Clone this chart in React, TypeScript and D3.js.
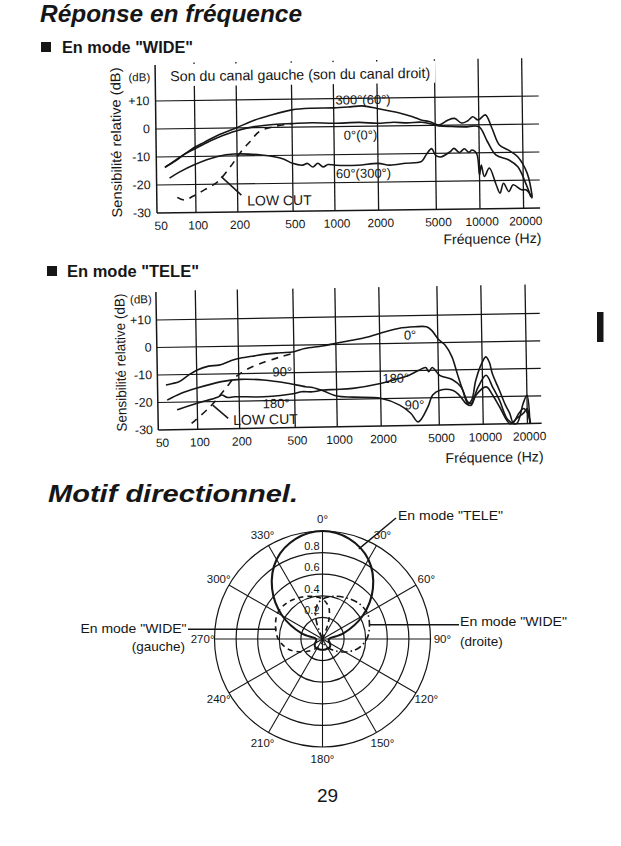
import React from "react";
import * as d3 from "d3";

type Pt = [number, number];

// ---------------- Data ----------------
const freqTicks = [50, 100, 200, 500, 1000, 2000, 5000, 10000, 20000];
const freqGrid = [100, 200, 500, 1000, 2000, 5000, 10000, 20000];
const dbTicks = [10, 0, -10, -20, -30];
const dbTickLabels = ["+10", "0", "-10", "-20", "-30"];

// WIDE mode (freq Hz, dB)
const wide300: Pt[] = [[58,-13.8],[70,-11.3],[82,-9.2],[100,-6.6],[116,-5.0],[145,-2.6],[200,0.1],[268,2.7],[350,4.4],[500,6.2],[700,6.7],[1000,6.7],[1300,7.0],[1570,7.3],[2000,6.3],[2800,4.7],[3500,3.2],[4000,2.0],[4600,1.3],[5300,0.1],[6100,1.8],[6800,2.4],[7600,0.7],[8400,1.5],[9100,2.9],[9900,1.7],[11100,3.5],[12300,-1.3],[13800,-7.3],[15800,-9.1],[18400,-11.6],[21300,-17.5],[23000,-26]];
const wide0: Pt[] = [[59,-13.5],[70,-11.5],[82,-9.3],[97,-7.5],[120,-5.2],[145,-3.4],[200,-1.0],[268,0.4],[350,1.0],[500,1.3],[700,1.5],[1000,1.2],[1500,1.4],[2000,1.0],[2600,1.3],[3200,1.0],[4000,1.2],[4600,0.6],[5300,-0.2],[6500,-0.5],[8000,-0.7],[10000,-0.7],[11400,-6.0],[13000,-10.8],[16000,-12.7],[18400,-15.2],[21000,-21.7],[22500,-26]];
const wide60: Pt[] = [[63,-17.6],[75,-15.5],[97,-13.0],[145,-10.1],[190,-9.3],[300,-9.8],[430,-11.3],[500,-12.9],[590,-13.6],[640,-13.0],[700,-14.3],[760,-13.0],[830,-14.3],[900,-13.5],[1020,-13.8],[1450,-13.9],[2000,-13.3],[2400,-14.0],[3100,-13.4],[4000,-12.8],[4300,-10.5],[4700,-8.3],[5000,-10.7],[5400,-11.3],[6300,-9.5],[6700,-8.3],[7300,-9.8],[7900,-8.5],[8500,-9.8],[8900,-9.0],[9600,-10.3],[10000,-17.9],[10300,-14.4],[10800,-18.5],[11700,-15.5],[13000,-21.5],[13800,-24.5],[14600,-21],[15900,-24],[17000,-21.6],[19400,-23.4],[21000,-23.5],[23000,-26.5]];
const wideLowCut: Pt[] = [[72,-24.5],[82,-25.5],[95,-24.2],[117,-21.8],[145,-19],[180,-13.6],[215,-8.3],[250,-4.8],[290,-1.4],[370,0.3],[500,1.3]];

// TELE mode (freq Hz, dB)
const tele0: Pt[] = [[58,-13.7],[65,-13.2],[73,-12.6],[85,-10.5],[100,-8.5],[122,-7.1],[145,-6.8],[180,-5.1],[200,-4.5],[250,-3.8],[312,-3.1],[400,-2.7],[500,-2.4],[597,-1.3],[800,-0.5],[1000,0.4],[1290,1.4],[1600,2.3],[2000,3.7],[2690,5.4],[3490,5.9],[4200,5.8],[4550,4.5],[5060,1.1],[5610,-1.0],[6220,-5.3],[6730,-11.4],[7300,-17.4],[7900,-22.3],[8400,-21],[9000,-13.9],[10000,-7.5],[10600,-5.5],[11200,-7.5],[11700,-11.7],[13000,-17.7],[14200,-23],[15200,-26.2],[16000,-29.5],[17500,-26.3],[18900,-24.5],[20000,-26],[21000,-29.8]];
const tele90: Pt[] = [[59,-19.2],[75,-16.9],[100,-15.0],[150,-12.8],[205,-12.1],[300,-12.5],[445,-13.8],[600,-15.2],[673,-15.5],[800,-16.8],[1000,-18.8],[1300,-19.3],[2000,-19.9],[2690,-22.5],[3200,-25.5],[3590,-28.7],[4200,-23.3],[4540,-19],[5100,-17.3],[6220,-17.4],[6900,-19.2],[7700,-22.4],[8300,-23],[9000,-19.3],[10600,-16.4],[11700,-19.5],[13000,-23.8],[15200,-29.9],[17000,-28],[19000,-26],[20000,-24.5],[20800,-29.8]];
const tele180: Pt[] = [[70,-22.8],[75,-22.3],[100,-20.5],[140,-18.5],[150,-17.7],[165,-18.6],[185,-18.4],[300,-18.6],[500,-17.6],[560,-17.0],[673,-17.1],[800,-16.5],[1000,-16.4],[1290,-16.1],[2000,-14.5],[2420,-13.4],[3150,-11.7],[3680,-9.9],[4100,-9.0],[4300,-10.5],[4540,-9.0],[5100,-11.9],[6200,-13.5],[7100,-16.2],[7900,-21.8],[8300,-22.4],[9300,-16.5],[10600,-12.2],[11700,-16.5],[13000,-21.4],[14800,-28.6],[16900,-29.9],[18800,-22.7],[20000,-19.7],[20800,-29.8]];
const teleLowCut: Pt[] = [[90,-27.8],[124,-21.8],[161,-15.2],[185,-11.7],[230,-8.5],[310,-5.9],[400,-4.2],[490,-3.0]];

// Polar pattern (angle deg, relative level)
const teleAngles = [0,15,30,45,60,75,90,105,120,135,150,165,180,195,210,225,240,255,270,285,300,315,330,345];
const teleLevels = [1.0,0.96,0.85,0.66,0.43,0.2,0.06,0.06,0.08,0.1,0.1,0.1,0.1,0.1,0.1,0.1,0.08,0.06,0.06,0.2,0.43,0.66,0.85,0.96];
const wideRightAngles = [-30,-20,-15,-10,0,15,30,45,60,75,90,105,120,135,150,165,180,200];
const wideRightLevels = [0,0.15,0.25,0.31,0.37,0.41,0.44,0.47,0.48,0.45,0.41,0.34,0.24,0.15,0.09,0.05,0.03,0];
const wideLeftAngles = [30,20,15,10,0,-15,-30,-45,-60,-75,-90,-105,-120,-135,-150,-165,-180,-200];
const wideLeftLevels = [0,0.15,0.25,0.31,0.37,0.41,0.44,0.47,0.48,0.45,0.41,0.34,0.24,0.15,0.09,0.05,0.03,0];
const ringValues = [0.2, 0.4, 0.6, 0.8, 1.0];
const ringLabels = ["0.2", "0.4", "0.6", "0.8"];
const spokeAngles = [0,30,60,90,120,150,180,210,240,270,300,330];

// ---------------- Style ----------------
const FONT = "'Liberation Sans', Arial, Helvetica, sans-serif";
const INK = "#161616";

type Note = { text: string; f: number; db: number; anchor: "start" | "middle" | "end" };
type ChartProps = {
  xr: number[]; yBottom: number; yTop: number; angle: number;
  vTop: number; axisTop: number; gridEndF: number;
  curves: { data: Pt[]; dash?: string }[];
  notes: Note[]; pointer: Pt[];
  yLabelEnd: number; dbLabelY: number;
  yTitleX: number; yTitleY: number; yTitleLen: number;
  xLabelDy: number; xTitleDy: number; xTitleEnd: number;
  title?: { text: string; x: number; y: number; len: number };
};

function FreqChart(p: ChartProps) {
  const x = d3.scaleLog().domain([50, 100, 1000, 10000, 25000]).range(p.xr);
  const y = d3.scaleLinear().domain([-30, 10]).range([p.yBottom, p.yTop]);
  const x0 = x(50);
  const x1 = x(p.gridEndF);
  const line = d3.line<Pt>().x(d => x(d[0])).y(d => y(d[1])).curve(d3.curveCatmullRom.alpha(0.5));
  const yb = y(-30);
  return (
    <g transform={`rotate(${p.angle} ${x0} ${yb})`}>
      {dbTicks.map((d, i) => (
        <line key={"h" + i} x1={x0} x2={x1} y1={y(d)} y2={y(d)} stroke={INK} strokeWidth={d === -30 ? 1.5 : 1.2} />
      ))}
      {freqGrid.map(f => (
        <line key={"v" + f} x1={x(f)} x2={x(f)} y1={yb} y2={p.vTop} stroke={INK} strokeWidth={1.3} />
      ))}
      {p.title && (
        <g>
          <rect x={p.title.x - 3} y={p.title.y - 12} width={p.title.len + 8} height={22} fill="#fff" />
          <text x={p.title.x} y={p.title.y} fontSize={14.5} dominantBaseline="central" fill={INK}
            textLength={p.title.len} lengthAdjust="spacingAndGlyphs">{p.title.text}</text>
        </g>
      )}
      <line x1={x0} x2={x0} y1={yb} y2={p.axisTop} stroke={INK} strokeWidth={1.5} />
      {p.curves.map((c, i) => (
        <path key={"c" + i} d={line(c.data) || ""} fill="none" stroke={INK} strokeWidth={1.6}
          strokeDasharray={c.dash} strokeLinejoin="round" />
      ))}
      <path d={d3.line<Pt>().x(d => x(d[0])).y(d => y(d[1]))(p.pointer) || ""} fill="none" stroke={INK} strokeWidth={1.5} />
      {p.notes.map((n, i) => (
        <text key={"n" + i} x={x(n.f)} y={y(n.db)} fontSize={n.text === "LOW CUT" ? 14 : 13}
          textAnchor={n.anchor} dominantBaseline="central" fill={INK}>{n.text}</text>
      ))}
      {dbTicks.map((d, i) => (
        <text key={"yl" + i} x={p.yLabelEnd} y={y(d)} fontSize={12.5} textAnchor="end" dominantBaseline="central" fill={INK}>
          {dbTickLabels[i]}
        </text>
      ))}
      <text x={p.yLabelEnd + 1} y={p.dbLabelY} fontSize={11.5} textAnchor="end" dominantBaseline="central" fill={INK}>(dB)</text>
      <text transform={`translate(${p.yTitleX},${p.yTitleY}) rotate(-90)`} fontSize={14} textAnchor="middle"
        dominantBaseline="central" fill={INK} textLength={p.yTitleLen} lengthAdjust="spacingAndGlyphs">
        Sensibilité relative (dB)
      </text>
      {freqTicks.map(f => (
        <text key={"xl" + f} x={x(f) + (f === 50 ? 4 : 2)} y={yb + p.xLabelDy} fontSize={12} textAnchor="middle"
          dominantBaseline="central" fill={INK}>{f}</text>
      ))}
      <text x={p.xTitleEnd} y={yb + p.xTitleDy} fontSize={14} textAnchor="end" dominantBaseline="central" fill={INK}
        textLength={98} lengthAdjust="spacingAndGlyphs">Fréquence (Hz)</text>
    </g>
  );
}

function Polar() {
  const cx = 322.5, cy = 639, R = 108;
  const r = d3.scaleLinear().domain([0, 1]).range([0, R]);
  const rad = (a: number) => (a * Math.PI) / 180;
  const pt = (a: number, v: number): Pt => [cx + r(v) * Math.sin(rad(a)), cy - r(v) * Math.cos(rad(a))];
  const teleData: Pt[] = teleAngles.map((a, i) => [a, teleLevels[i]]);
  const rightData: Pt[] = wideRightAngles.map((a, i) => [a, wideRightLevels[i]]);
  const leftData: Pt[] = wideLeftAngles.map((a, i) => [a, wideLeftLevels[i]]);
  const closed = d3.lineRadial<Pt>().angle(d => rad(d[0])).radius(d => r(d[1])).curve(d3.curveCatmullRomClosed.alpha(0.5));
  const open = d3.lineRadial<Pt>().angle(d => rad(d[0])).radius(d => r(d[1])).curve(d3.curveCatmullRom.alpha(0.5));
  const teleTip = pt(22, 0.9);
  const wideR = pt(73, 0.45);
  const wideL = pt(-78, 0.435);
  return (
    <g>
      {ringValues.map(v => (
        <circle key={"ring" + v} cx={cx} cy={cy} r={r(v)} fill="none" stroke={INK} strokeWidth={1.2} />
      ))}
      {spokeAngles.map(a => {
        const [ex, ey] = pt(a, 1);
        return <line key={"sp" + a} x1={cx} y1={cy} x2={ex} y2={ey} stroke={INK} strokeWidth={1.1} />;
      })}
      <g transform={`translate(${cx},${cy})`}>
        <path d={closed(teleData) || ""} fill="none" stroke={INK} strokeWidth={2.1} />
        <path d={open(leftData) || ""} fill="none" stroke={INK} strokeWidth={1.6} strokeDasharray="5 4" />
        <path d={open(rightData) || ""} fill="none" stroke={INK} strokeWidth={1.6} strokeDasharray="7 3 1.5 3" />
      </g>
      {spokeAngles.map(a => {
        const [lx, ly] = pt(a, 1.11);
        return (
          <text key={"al" + a} x={lx} y={ly} fontSize={11.5} textAnchor="middle" dominantBaseline="central" fill={INK}>
            {a}°
          </text>
        );
      })}
      {ringLabels.map((t, i) => (
        <text key={"rl" + t} x={cx - 3} y={cy - r(ringValues[i]) - 7} fontSize={11} textAnchor="end"
          dominantBaseline="central" fill={INK}>{t}</text>
      ))}
      <line x1={396} y1={518} x2={teleTip[0]} y2={teleTip[1]} stroke={INK} strokeWidth={1.4} />
      <text x={398} y={515} fontSize={13.5} dominantBaseline="central" fill={INK} textLength={105} lengthAdjust="spacingAndGlyphs">En mode "TELE"</text>
      <line x1={wideR[0]} y1={wideR[1]} x2={459} y2={wideR[1]} stroke={INK} strokeWidth={1.4} />
      <text x={460} y={621.7} fontSize={13.5} dominantBaseline="central" fill={INK} textLength={107} lengthAdjust="spacingAndGlyphs">En mode "WIDE"</text>
      <text x={460} y={641.7} fontSize={13.5} dominantBaseline="central" fill={INK}>(droite)</text>
      <line x1={188} y1={wideL[1]} x2={wideL[0]} y2={wideL[1]} stroke={INK} strokeWidth={1.4} />
      <text x={186.5} y={628.3} fontSize={13.5} textAnchor="end" dominantBaseline="central" fill={INK} textLength={106} lengthAdjust="spacingAndGlyphs">En mode "WIDE"</text>
      <text x={185} y={646.7} fontSize={13.5} textAnchor="end" dominantBaseline="central" fill={INK}>(gauche)</text>
    </g>
  );
}

export default function App() {
  return (
    <svg width={621} height={846} viewBox="0 0 621 846" fontFamily={FONT}
      style={{ position: "absolute", left: 0, top: 0, background: "#fff" }}>
      <rect width={621} height={846} fill="#fff" />
      <text x={40} y={22} fontSize={24} fontWeight="bold" fontStyle="italic" fill={INK}
        textLength={262} lengthAdjust="spacingAndGlyphs">Réponse en fréquence</text>
      <rect x={41} y={42} width={10} height={10} fill={INK} />
      <text x={62} y={53} fontSize={16.5} fontWeight="bold" fill={INK}
        textLength={131} lengthAdjust="spacingAndGlyphs">En mode "WIDE"</text>

      <FreqChart
        xr={[157, 196, 335, 480, 537.7]} yBottom={213} yTop={101} angle={-0.75}
        vTop={63} axisTop={65} gridEndF={26000}
        curves={[{ data: wide300 }, { data: wide0 }, { data: wide60 }, { data: wideLowCut, dash: "7 6" }]}
        notes={[
          { text: "300°(60°)", f: 1030, db: 9.5, anchor: "start" },
          { text: "0°(0°)", f: 1523, db: -3.1, anchor: "middle" },
          { text: "60°(300°)", f: 1585, db: -16.8, anchor: "middle" },
          { text: "LOW CUT", f: 234, db: -26, anchor: "start" },
        ]}
        pointer={[[153, -17.3], [213, -24]]}
        yLabelEnd={151} dbLabelY={77}
        yTitleX={117} yTitleY={142} yTitleLen={150}
        xLabelDy={13} xTitleDy={30} xTitleEnd={541}
        title={{ text: "Son du canal gauche (son du canal droit)", x: 172, y: 76.5, len: 260 }}
      />

      <rect x={47} y={266} width={10} height={10} fill={INK} />
      <text x={67} y={277} fontSize={16.5} fontWeight="bold" fill={INK}
        textLength={132} lengthAdjust="spacingAndGlyphs">En mode "TELE"</text>

      <FreqChart
        xr={[158.3, 197.7, 337.3, 483.3, 541.7]} yBottom={430} yTop={320} angle={-1.0}
        vTop={291} axisTop={292} gridEndF={25000}
        curves={[{ data: tele0 }, { data: tele90 }, { data: tele180 }, { data: teleLowCut, dash: "7 6" }]}
        notes={[
          { text: "0°", f: 3230, db: 2.9, anchor: "middle" },
          { text: "90°", f: 410, db: -9.6, anchor: "middle" },
          { text: "180°", f: 2550, db: -12.7, anchor: "middle" },
          { text: "180°", f: 368, db: -21.1, anchor: "middle" },
          { text: "90°", f: 3400, db: -22.5, anchor: "middle" },
          { text: "LOW CUT", f: 180, db: -26.8, anchor: "start" },
        ]}
        pointer={[[129, -21.3], [166, -26.2]]}
        yLabelEnd={153} dbLabelY={299}
        yTitleX={121.7} yTitleY={362} yTitleLen={138}
        xLabelDy={13} xTitleDy={33} xTitleEnd={543}
      />

      <rect x={597} y={312} width={6.5} height={30} fill={INK} />

      <text x={48} y={502} fontSize={24} fontWeight="bold" fontStyle="italic" fill={INK}
        textLength={250} lengthAdjust="spacingAndGlyphs">Motif directionnel.</text>

      <Polar />

      <text x={327.5} y={802} fontSize={19} textAnchor="middle" fill={INK}>29</text>
    </svg>
  );
}
